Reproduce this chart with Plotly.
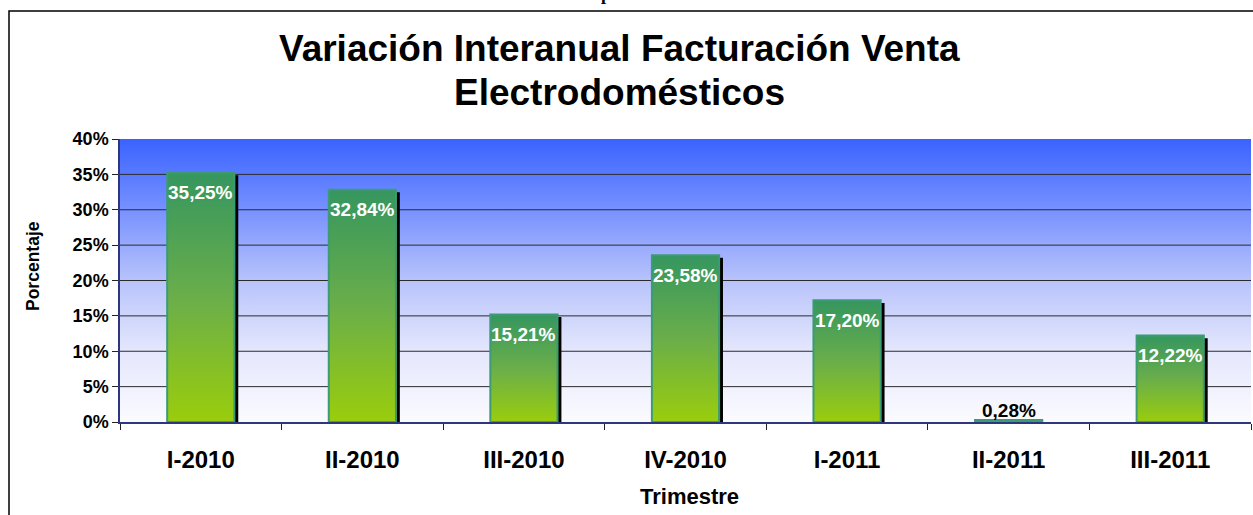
import plotly.graph_objects as go

# datos
trimestres = ["I-2010", "II-2010", "III-2010", "IV-2010", "I-2011", "II-2011", "III-2011"]
variacion = [35.25, 32.84, 15.21, 23.58, 17.20, 0.28, 12.22]
y_ticks = [0, 5, 10, 15, 20, 25, 30, 35, 40]

W, H = 1253, 515
ML, MR, MT, MB = 120, 2, 139, 93
PW, PH = W - ML - MR, H - MT - MB
X_RANGE = [-0.5, len(trimestres) - 0.5]
Y_RANGE = [0, 40]
HALF = 0.208          # semiancho de la barra
SOMBRA_DX = 0.024     # desplazamiento de la sombra
SOMBRA_DY = 0.38

FONT = "Liberation Sans, Arial, sans-serif"
VERDE_ARRIBA = "#35965f"
VERDE_ABAJO = "#9acd0c"


def px_x(px):
    return (px - ML) / PW


def px_y(py):
    return (H - MB - py) / PH


fig = go.Figure()

# fondo degradado del area de trazado
fig.add_trace(go.Scatter(
    x=[X_RANGE[0], X_RANGE[1], X_RANGE[1], X_RANGE[0], X_RANGE[0]],
    y=[Y_RANGE[0], Y_RANGE[0], Y_RANGE[1], Y_RANGE[1], Y_RANGE[0]],
    mode="lines", fill="toself", line=dict(width=0),
    fillgradient=dict(type="vertical", start=Y_RANGE[0], stop=Y_RANGE[1],
                      colorscale=[[0, "#fbfbff"], [0.25, "#e4e7fc"], [0.5, "#b8c3fb"],
                                  [0.75, "#7791ff"], [1, "#3a63ff"]]),
    hoverinfo="skip", showlegend=False,
))

# lineas de cuadricula (encima del fondo, debajo de las barras)
gx, gy = [], []
for t in y_ticks[1:-1]:
    gx += [X_RANGE[0], X_RANGE[1], None]
    gy += [t, t, None]
fig.add_trace(go.Scatter(x=gx, y=gy, mode="lines", line=dict(color="#2b2b2b", width=1),
                         hoverinfo="skip", showlegend=False))

# sombras
for i, v in enumerate(variacion):
    top = v - SOMBRA_DY
    if top <= 0:
        continue
    x0, x1 = i - HALF + SOMBRA_DX, i + HALF + SOMBRA_DX
    fig.add_trace(go.Scatter(
        x=[x0, x1, x1, x0, x0], y=[0, 0, top, top, 0],
        mode="lines", fill="toself", fillcolor="black", line=dict(width=0),
        hoverinfo="skip", showlegend=False,
    ))

# barras con degradado
for i, v in enumerate(variacion):
    x0, x1 = i - HALF, i + HALF
    fig.add_trace(go.Scatter(
        x=[x0, x1, x1, x0, x0], y=[0, 0, v, v, 0],
        mode="lines", fill="toself", line=dict(color="#3c9b74", width=2),
        fillgradient=dict(type="vertical", start=0, stop=v,
                          colorscale=[[0, VERDE_ABAJO], [0.5, "#6aae4a"], [1, VERDE_ARRIBA]]),
        name=trimestres[i], showlegend=False,
    ))

# etiquetas de datos
for i, v in enumerate(variacion):
    txt = f"{v:.2f}%".replace(".", ",")
    dentro = v > 3
    fig.add_annotation(
        x=i, y=v, text=txt, showarrow=False,
        yanchor="middle", yshift=-20 if dentro else 10,
        font=dict(family=FONT, size=19, weight="bold", color="white" if dentro else "black"),
    )

fig.update_layout(
    width=W, height=H,
    margin=dict(l=ML, r=MR, t=MT, b=MB),
    paper_bgcolor="white", plot_bgcolor="white",
    font=dict(family=FONT, color="black"),
    xaxis=dict(
        range=X_RANGE, showgrid=False, zeroline=False,
        showline=True, linecolor="#2e3680", linewidth=1.5,
        tickmode="array", tickvals=list(range(len(trimestres))), ticktext=trimestres,
        ticks="", ticklabelstandoff=15,
        tickfont=dict(family=FONT, size=24, weight="bold"),
        minor=dict(tickmode="array",
                   tickvals=[k - 0.5 for k in range(len(trimestres) + 1)],
                   ticks="outside", ticklen=6, tickcolor="#222", tickwidth=1, showgrid=False),
    ),
    yaxis=dict(
        range=Y_RANGE, showgrid=False, zeroline=False,
        showline=True, linecolor="#2e3680", linewidth=1.5,
        tickmode="array", tickvals=y_ticks, ticktext=[f"{t}%" for t in y_ticks],
        ticks="outside", ticklen=6, tickcolor="#222",
        tickfont=dict(family=FONT, size=18, weight="bold"),
    ),
)

# titulo en dos lineas
for linea, ypx in [("Variación Interanual Facturación Venta", 49), ("Electrodomésticos", 93)]:
    fig.add_annotation(
        xref="paper", yref="paper", x=px_x(619), y=px_y(ypx), text=linea,
        showarrow=False, xanchor="center", yanchor="middle",
        font=dict(family=FONT, size=37, weight="bold"),
    )

# titulos de ejes
fig.add_annotation(
    xref="paper", yref="paper", x=px_x(689), y=px_y(496), text="Trimestre",
    showarrow=False, xanchor="center", yanchor="middle",
    font=dict(family=FONT, size=22, weight="bold"),
)
fig.add_annotation(
    xref="paper", yref="paper", x=px_x(33), y=px_y(266), text="Porcentaje",
    showarrow=False, textangle=-90, xanchor="center", yanchor="middle",
    font=dict(family=FONT, size=17.5, weight="bold"),
)

# fragmento de texto cortado en la parte superior
fig.add_annotation(
    xref="paper", yref="paper", x=px_x(606), y=px_y(6), text="p",
    showarrow=False, xanchor="center", yanchor="bottom",
    font=dict(family="Liberation Serif, Times New Roman, serif", size=18, weight="bold"),
)

# marco del grafico
fig.add_shape(
    type="rect", xref="paper", yref="paper",
    x0=px_x(9), x1=px_x(W + 10), y0=px_y(H + 10), y1=px_y(11),
    line=dict(color="black", width=1.5), fillcolor="rgba(0,0,0,0)", layer="above",
)

# sin margen del body, para que la figura ocupe la ventana desde (0, 0)
fig.write_html("out.html", config={"displayModeBar": False},
               post_script="document.body.style.margin='0';")
